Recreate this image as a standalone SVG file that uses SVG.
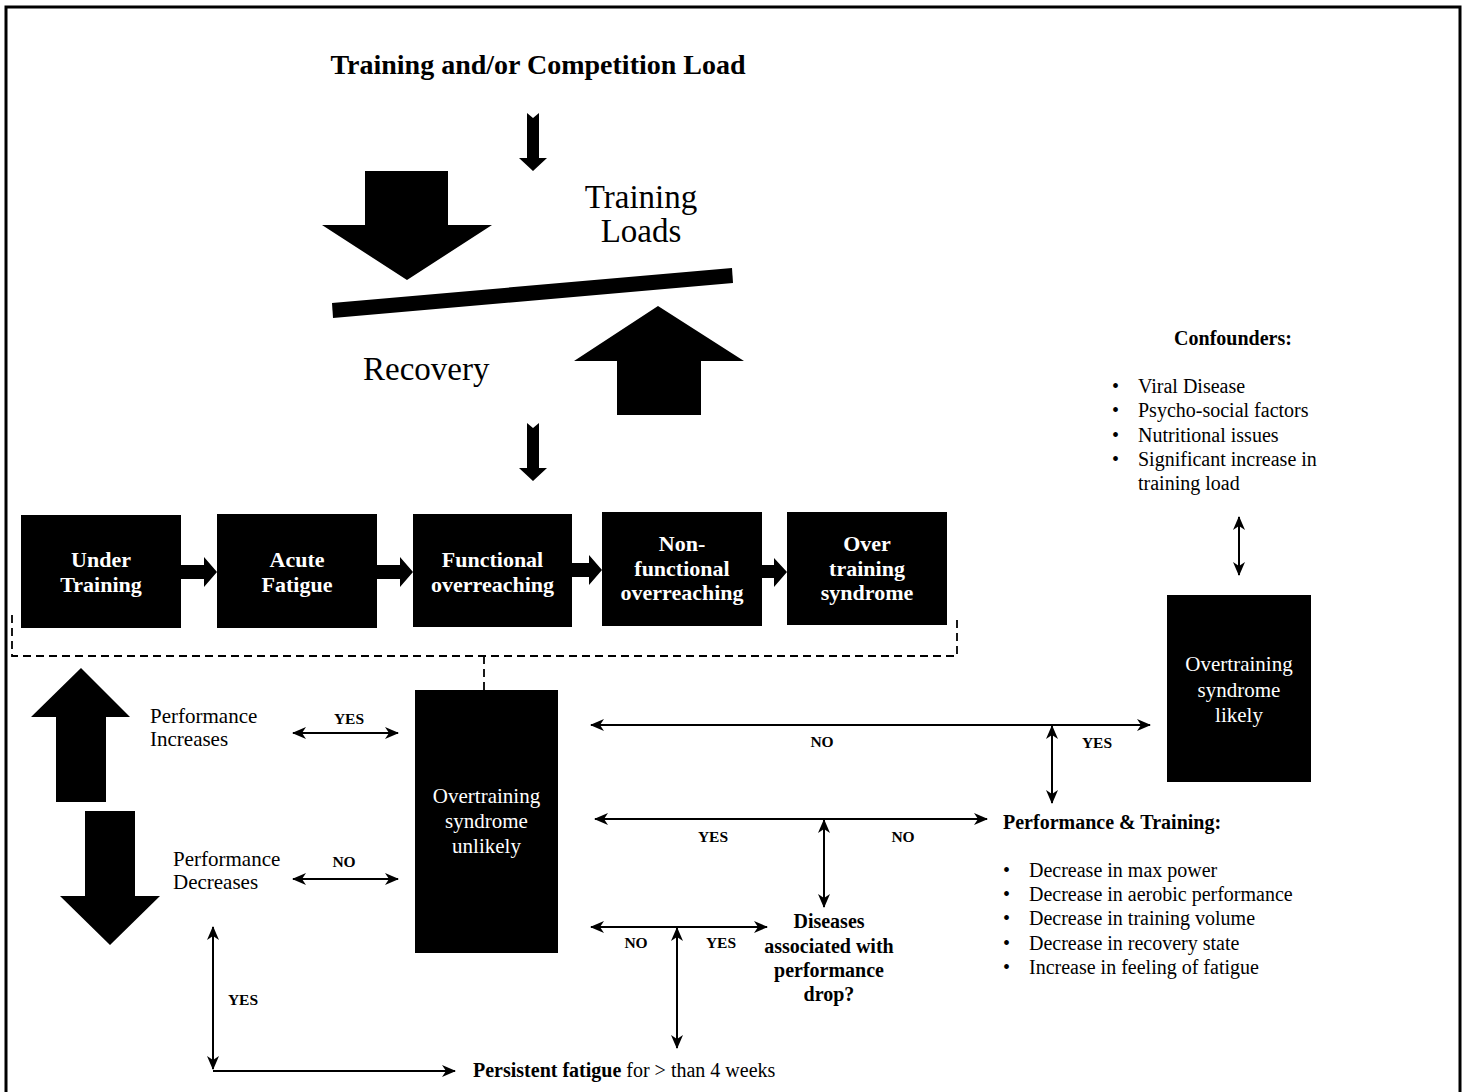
<svg xmlns="http://www.w3.org/2000/svg" width="1468" height="1092" viewBox="0 0 1468 1092">
<style>
text{font-family:"Liberation Serif","Times New Roman",serif;fill:#000}
.bw{font-weight:bold;fill:#fff;font-size:22px;text-anchor:middle}
.rw{fill:#fff;font-size:21px;text-anchor:middle}
.lbl{font-weight:bold;font-size:15.5px;text-anchor:middle}
.t20{font-size:20px}
.t21{font-size:21px}
.b20{font-size:20px;font-weight:bold}
.box{fill:#000}
.con{fill:none;stroke:#000;stroke-width:2}
.dash{fill:none;stroke:#000;stroke-width:1.8;stroke-dasharray:8 5}
</style>
<defs>
<marker id="ah" viewBox="0 0 14 12" refX="13" refY="6" markerWidth="14" markerHeight="12" markerUnits="userSpaceOnUse" orient="auto-start-reverse">
<path d="M0,0 L14,6 L0,12 L4,6 Z" fill="#000"/>
</marker>
</defs>
<rect x="6" y="7" width="1454" height="1100" fill="none" stroke="#000" stroke-width="3"/>

<g id="title">
<text x="538" y="74" style="font-size:28px;font-weight:bold" text-anchor="middle">Training and/or Competition Load</text>
</g>

<g id="balance">
<polygon points="527,113 533,118 539,113 539,158 547,158 533,171 519,158 527,158" fill="#000"/>
<polygon points="365,171 448,171 448,225 492,225 407,280 322,225 365,225" fill="#000"/>
<polygon points="332,303 732,268 733,283 333,318" fill="#000"/>
<polygon points="658,306 744,361 701,361 701,415 617,415 617,361 574,361" fill="#000"/>
<text x="641" y="208" style="font-size:33px" text-anchor="middle">Training</text>
<text x="641" y="242" style="font-size:33px" text-anchor="middle">Loads</text>
<text x="363" y="380" style="font-size:33px">Recovery</text>
<polygon points="527,423 533,428 539,423 539,468 547,468 533,481 519,468 527,468" fill="#000"/>
</g>

<g id="under-training">
<rect class="box" x="21" y="515" width="160" height="113"/>
<text class="bw" x="101" y="567">Under</text>
<text class="bw" x="101" y="592">Training</text>
</g>
<g id="acute-fatigue">
<rect class="box" x="217" y="514" width="160" height="114"/>
<text class="bw" x="297" y="567">Acute</text>
<text class="bw" x="297" y="592">Fatigue</text>
</g>
<g id="functional-overreaching">
<rect class="box" x="413" y="514" width="159" height="113"/>
<text class="bw" x="492.5" y="567">Functional</text>
<text class="bw" x="492.5" y="592">overreaching</text>
</g>
<g id="non-functional-overreaching">
<rect class="box" x="602" y="512" width="160" height="114"/>
<text class="bw" x="682" y="551">Non-</text>
<text class="bw" x="682" y="576">functional</text>
<text class="bw" x="682" y="600">overreaching</text>
</g>
<g id="over-training-syndrome">
<rect class="box" x="787" y="512" width="160" height="113"/>
<text class="bw" x="867" y="551">Over</text>
<text class="bw" x="867" y="576">training</text>
<text class="bw" x="867" y="600">syndrome</text>
</g>

<g id="perf-arrows">
<polygon points="81,668 130,717 106,717 106,802 56,802 56,717 31,717" fill="#000"/>
<polygon points="85,811 135,811 135,896 160,896 110,945 60,896 85,896" fill="#000"/>
</g>
<g id="perf-increases">
<text class="t21" x="150" y="723">Performance</text>
<text class="t21" x="150" y="746">Increases</text>
</g>
<g id="perf-decreases">
<text class="t21" x="173" y="866">Performance</text>
<text class="t21" x="173" y="889">Decreases</text>
</g>

<g id="ots-unlikely">
<rect class="box" x="415" y="690" width="143" height="263"/>
<text class="rw" x="486.5" y="803">Overtraining</text>
<text class="rw" x="486.5" y="828">syndrome</text>
<text class="rw" x="486.5" y="853">unlikely</text>
</g>

<g id="ots-likely">
<rect class="box" x="1167" y="595" width="144" height="187"/>
<text class="rw" x="1239" y="671">Overtraining</text>
<text class="rw" x="1239" y="697">syndrome</text>
<text class="rw" x="1239" y="722">likely</text>
</g>

<g id="confounders">
<text class="b20" x="1233" y="345" text-anchor="middle">Confounders:</text>
<text class="t20" x="1112" y="393">•</text><text class="t20" x="1138" y="393">Viral Disease</text>
<text class="t20" x="1112" y="417">•</text><text class="t20" x="1138" y="417">Psycho-social factors</text>
<text class="t20" x="1112" y="442">•</text><text class="t20" x="1138" y="442">Nutritional issues</text>
<text class="t20" x="1112" y="466">•</text><text class="t20" x="1138" y="466">Significant increase in</text>
<text class="t20" x="1138" y="490">training load</text>
</g>

<g id="perf-training">
<text class="b20" x="1003" y="829">Performance &amp; Training:</text>
<text class="t20" x="1003" y="877">•</text><text class="t20" x="1029" y="877">Decrease in max power</text>
<text class="t20" x="1003" y="901">•</text><text class="t20" x="1029" y="901">Decrease in aerobic performance</text>
<text class="t20" x="1003" y="925">•</text><text class="t20" x="1029" y="925">Decrease in training volume</text>
<text class="t20" x="1003" y="950">•</text><text class="t20" x="1029" y="950">Decrease in recovery state</text>
<text class="t20" x="1003" y="974">•</text><text class="t20" x="1029" y="974">Increase in feeling of fatigue</text>
</g>

<g id="diseases">
<text class="b20" x="829" y="928" text-anchor="middle">Diseases</text>
<text class="b20" x="829" y="953" text-anchor="middle">associated with</text>
<text class="b20" x="829" y="977" text-anchor="middle">performance</text>
<text class="b20" x="829" y="1001" text-anchor="middle">drop?</text>
</g>

<g id="persistent-fatigue">
<text class="t20" x="473" y="1077"><tspan font-weight="bold">Persistent fatigue</tspan> for &gt; than 4 weeks</text>
</g>

<g id="connectors">
<polygon points="181,565 204,565 204,557 217,572 204,587 204,579 181,579" fill="#000"/>
<polygon points="377,565 400,565 400,557 413,572 400,587 400,579 377,579" fill="#000"/>
<polygon points="572,563 589,563 589,555 602,570 589,585 589,577 572,577" fill="#000"/>
<polygon points="762,565 774,565 774,558 787,572 774,587 774,578 762,578" fill="#000"/>
<polyline class="dash" points="12,615 12,656 957,656 957,615"/>
<line class="dash" x1="484" y1="656" x2="484" y2="690"/>
<line class="con" x1="293" y1="733" x2="398" y2="733" marker-start="url(#ah)" marker-end="url(#ah)"/>
<line class="con" x1="293" y1="879" x2="398" y2="879" marker-start="url(#ah)" marker-end="url(#ah)"/>
<line class="con" x1="591" y1="725" x2="1150" y2="725" marker-start="url(#ah)" marker-end="url(#ah)"/>
<line class="con" x1="1052" y1="726" x2="1052" y2="803" marker-start="url(#ah)" marker-end="url(#ah)"/>
<line class="con" x1="595" y1="819" x2="987" y2="819" marker-start="url(#ah)" marker-end="url(#ah)"/>
<line class="con" x1="824" y1="820" x2="824" y2="907" marker-start="url(#ah)" marker-end="url(#ah)"/>
<line class="con" x1="591" y1="927" x2="767" y2="927" marker-start="url(#ah)" marker-end="url(#ah)"/>
<line class="con" x1="677" y1="928" x2="677" y2="1048" marker-start="url(#ah)" marker-end="url(#ah)"/>
<line class="con" x1="213" y1="927" x2="213" y2="1069" marker-start="url(#ah)" marker-end="url(#ah)"/>
<line class="con" x1="213" y1="1071" x2="455" y2="1071" marker-end="url(#ah)"/>
<line class="con" x1="1239" y1="517" x2="1239" y2="575" marker-start="url(#ah)" marker-end="url(#ah)"/>
<text class="lbl" x="349" y="724">YES</text>
<text class="lbl" x="344" y="867">NO</text>
<text class="lbl" x="822" y="747">NO</text>
<text class="lbl" x="1097" y="748">YES</text>
<text class="lbl" x="713" y="842">YES</text>
<text class="lbl" x="903" y="842">NO</text>
<text class="lbl" x="636" y="948">NO</text>
<text class="lbl" x="721" y="948">YES</text>
<text class="lbl" x="243" y="1005">YES</text>
</g>
</svg>
